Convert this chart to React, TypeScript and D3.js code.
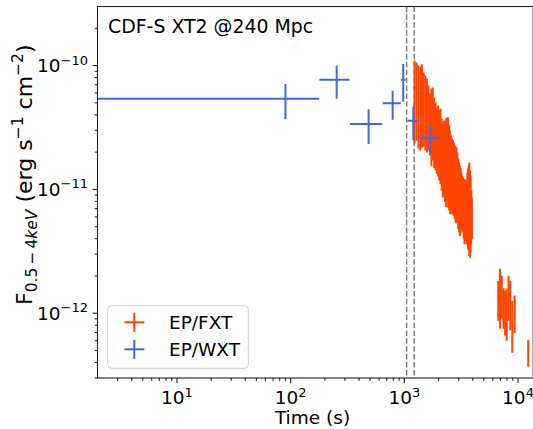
import React from "react";
import * as d3 from "d3";

// EP/WXT points: time (s), half bin width (s), flux and 1-sigma error (erg s^-1 cm^-2)
const wxtTime = [90, 254, 485, 789, 978, 1200, 1700];
const wxtTimeErr = [88, 75, 153, 143, 47, 135, 365];
const wxtFlux = [5.4e-11, 7.7e-11, 3.38e-11, 4.96e-11, 7.7e-11, 3.58e-11, 2.61e-11];
const wxtFluxErr = [1.7e-11, 2.3e-11, 1.05e-11, 1.3e-11, 2.6e-11, 1.1e-11, 6.5e-12];

// EP/FXT light curve: time (s), half bin width (s), flux and error in units of 1e-11
const fxtTime = [
  1230, 1280, 1330, 1380, 1430, 1480, 1530, 1580, 1630, 1680, 1730, 1780, 1830, 1880,
  1930, 1980, 2030, 2080, 2130, 2180, 2230, 2280, 2330, 2380, 2430, 2480, 2530, 2580,
  2630, 2680, 2730, 2780, 2830, 2880, 2930, 2980, 3030, 3080, 3130, 3180, 3230, 3280,
  3330, 3380, 3430, 3480, 3530, 3580, 3630, 3680, 3730, 3780, 3830, 3880, 3930,
  6700, 6950, 7200, 7450, 7700, 7950, 8250, 8550, 8900, 9350, 12300,
];
const fxtTimeErr = [
  25, 25, 25, 25, 25, 25, 25, 25, 25, 25, 25, 25, 25, 25,
  25, 25, 25, 25, 25, 25, 25, 25, 25, 25, 25, 25, 25, 25,
  25, 25, 25, 25, 25, 25, 25, 25, 25, 25, 25, 25, 25, 25,
  25, 25, 25, 25, 25, 25, 25, 25, 25, 25, 25, 25, 25,
  125, 125, 125, 125, 125, 125, 125, 125, 125, 125, 150,
];
const fxtFlux = [
  6.66, 6.53, 6.07, 5.94, 6.19, 5.5, 5.18, 4.92, 4.48, 3.91, 4.03, 4.18, 3.5, 3.23,
  2.96, 3.01, 2.76, 2.8, 2.36, 2.13, 2.25, 2.13, 2.23, 2.31, 2.26, 1.98, 1.81, 1.71,
  1.6, 1.57, 1.5, 1.42, 1.38, 1.36, 1.27, 1.13, 1.05, 0.99, 0.96, 0.92, 0.89, 0.85,
  0.81, 0.77, 0.8, 0.77, 0.77, 0.88, 0.9, 0.94, 0.97, 0.85, 0.8, 0.67, 0.63,
  0.135, 0.152, 0.146, 0.117, 0.109, 0.109, 0.144, 0.128, 0.087, 0.104, 0.049,
];
const fxtFluxErr = [
  4.31, 4.05, 3.93, 3.88, 4.01, 3.28, 3.12, 2.93, 2.42, 2.03, 2.49, 2.47, 2.02, 1.81,
  1.62, 1.74, 1.58, 1.69, 1.38, 1.27, 1.35, 1.34, 1.51, 1.5, 1.55, 1.3, 1.18, 1.01,
  0.97, 0.92, 0.89, 0.84, 0.84, 0.83, 0.71, 0.65, 0.6, 0.57, 0.52, 0.45, 0.4, 0.4,
  0.41, 0.41, 0.4, 0.39, 0.41, 0.49, 0.57, 0.62, 0.68, 0.57, 0.49, 0.31, 0.23,
  0.048, 0.077, 0.055, 0.042, 0.043, 0.049, 0.057, 0.055, 0.039, 0.035, 0.012,
];
const FXT_UNIT = 1e-11;

// marked times (s)
const markTimes = [1048, 1223];

const xMajor = [1, 2, 3, 4]; // exponents
const yMajor = [-10, -11, -12];

const title = "CDF-S XT2 @240 Mpc";
const legendLabels = ["EP/FXT", "EP/WXT"];

const FXT_COLOR = "#ff4500";
const WXT_COLOR = "#4169e1";
const FONT = "DejaVu Sans, sans-serif";

const App = () => {
  const svgRef = React.useRef<SVGSVGElement>(null);
  const width = 533;
  const height = 429;
  const box = { left: 97.5, right: 533.2, top: 6.5, bottom: 378 };
  const xMax = 1.36e4;

  React.useEffect(() => {
    const svg = d3.select(svgRef.current);
    svg.selectAll("*").remove();

    const x = d3.scaleLog().domain([2, xMax]).range([box.left, box.right]);
    const y = d3.scaleLog().domain([3e-13, 3e-10]).range([box.bottom, box.top]);

    svg
      .append("defs")
      .append("clipPath")
      .attr("id", "plotclip")
      .append("rect")
      .attr("x", box.left)
      .attr("y", box.top)
      .attr("width", box.right - box.left)
      .attr("height", box.bottom - box.top);

    const plot = svg.append("g").attr("clip-path", "url(#plotclip)");

    // dashed marker lines
    plot
      .selectAll("line.mark")
      .data(markTimes)
      .enter()
      .append("line")
      .attr("x1", (d) => x(d))
      .attr("x2", (d) => x(d))
      .attr("y1", box.top)
      .attr("y2", box.bottom)
      .style("stroke", "#808080")
      .style("stroke-width", 1.5)
      .style("stroke-dasharray", "5.5,2.4");

    // error bar helper
    const drawBars = (
      t: number[],
      te: number[],
      f: number[],
      fe: number[],
      unit: number,
      color: string
    ) => {
      const pts = t.map((d, i) => ({
        t: d,
        te: te[i],
        f: f[i] * unit,
        fe: fe[i] * unit,
      }));
      const g = plot.append("g").style("stroke", color).style("stroke-width", 2);
      g.selectAll("line.v")
        .data(pts)
        .enter()
        .append("line")
        .attr("x1", (d) => x(d.t))
        .attr("x2", (d) => x(d.t))
        .attr("y1", (d) => y(d.f + d.fe))
        .attr("y2", (d) => (d.f - d.fe > 0 ? y(d.f - d.fe) : box.bottom + 10));
      g.selectAll("line.h")
        .data(pts)
        .enter()
        .append("line")
        .attr("x1", (d) => (d.t - d.te > 0 ? x(d.t - d.te) : box.left - 10))
        .attr("x2", (d) => x(d.t + d.te))
        .attr("y1", (d) => y(d.f))
        .attr("y2", (d) => y(d.f));
    };

    drawBars(fxtTime, fxtTimeErr, fxtFlux, fxtFluxErr, FXT_UNIT, FXT_COLOR);
    drawBars(wxtTime, wxtTimeErr, wxtFlux, wxtFluxErr, 1, WXT_COLOR);

    // frame
    svg
      .append("rect")
      .attr("x", box.left)
      .attr("y", box.top)
      .attr("width", box.right - box.left)
      .attr("height", box.bottom - box.top)
      .style("fill", "none")
      .style("stroke", "#222")
      .style("stroke-width", 1.1);

    // ticks
    const ticks = svg.append("g").style("stroke", "#222").style("stroke-width", 1.1);
    const xMinor: number[] = [];
    const yMinor: number[] = [];
    [0, 1, 2, 3, 4].forEach((k) =>
      d3.range(2, 10).forEach((m) => {
        const v = m * Math.pow(10, k);
        if (v > 2 && v < xMax) xMinor.push(v);
      })
    );
    [-13, -12, -11, -10].forEach((k) =>
      d3.range(2, 10).forEach((m) => {
        const v = m * Math.pow(10, k);
        if (v > 3e-13 && v < 3e-10) yMinor.push(v);
      })
    );
    xMajor.forEach((e) =>
      ticks
        .append("line")
        .attr("x1", x(Math.pow(10, e)))
        .attr("x2", x(Math.pow(10, e)))
        .attr("y1", box.bottom)
        .attr("y2", box.bottom + 4.9)
    );
    xMinor.forEach((v) =>
      ticks
        .append("line")
        .attr("x1", x(v))
        .attr("x2", x(v))
        .attr("y1", box.bottom)
        .attr("y2", box.bottom + 2.8)
    );
    yMajor.forEach((e) =>
      ticks
        .append("line")
        .attr("y1", y(Math.pow(10, e)))
        .attr("y2", y(Math.pow(10, e)))
        .attr("x1", box.left)
        .attr("x2", box.left - 4.9)
    );
    yMinor.forEach((v) =>
      ticks
        .append("line")
        .attr("y1", y(v))
        .attr("y2", y(v))
        .attr("x1", box.left)
        .attr("x2", box.left - 2.8)
    );

    // tick labels
    xMajor.forEach((e) => {
      const t = svg
        .append("text")
        .attr("x", x(Math.pow(10, e)))
        .attr("y", 404)
        .attr("text-anchor", "middle")
        .style("font-family", FONT)
        .style("font-size", "18.5px");
      t.append("tspan").text("10");
      t.append("tspan").attr("dy", -7.5).style("font-size", "13px").text(String(e));
    });
    yMajor.forEach((e) => {
      const t = svg
        .append("text")
        .attr("x", 88)
        .attr("y", y(Math.pow(10, e)) + 6.5)
        .attr("text-anchor", "end")
        .style("font-family", FONT)
        .style("font-size", "18.5px");
      t.append("tspan").text("10");
      t.append("tspan").attr("dy", -7.5).style("font-size", "13px").text("\u2212" + Math.abs(e));
    });

    // axis labels
    svg
      .append("text")
      .attr("x", 312.5)
      .attr("y", 424)
      .attr("text-anchor", "middle")
      .style("font-family", FONT)
      .style("font-size", "18.5px")
      .text("Time (s)");

    const yl = svg
      .append("text")
      .attr("transform", `translate(32, 305) rotate(-90)`)
      .attr("text-anchor", "start")
      .style("font-family", FONT)
      .style("font-size", "22px");
    yl.append("tspan").text("F");
    yl.append("tspan").attr("dy", 4.5).style("font-size", "15.5px").text("0.5\u2009\u2212\u20094");
    yl.append("tspan").style("font-size", "15.5px").style("font-style", "italic").text("keV");
    yl.append("tspan").attr("dy", -4.5).text(" (erg s");
    yl.append("tspan").attr("dy", -9).style("font-size", "15.5px").text("\u22121");
    yl.append("tspan").attr("dy", 9).text(" cm");
    yl.append("tspan").attr("dy", -9).style("font-size", "15.5px").text("\u22122");
    yl.append("tspan").attr("dy", 9).text(")");

    // title
    svg
      .append("text")
      .attr("x", 108)
      .attr("y", 33)
      .style("font-family", FONT)
      .style("font-size", "18.9px")
      .text(title);

    // legend
    const lg = svg.append("g");
    lg.append("rect")
      .attr("x", 107.7)
      .attr("y", 305.7)
      .attr("width", 140.6)
      .attr("height", 62.6)
      .attr("rx", 4)
      .style("fill", "white")
      .style("fill-opacity", 0.8)
      .style("stroke", "#cccccc")
      .style("stroke-width", 1);
    [FXT_COLOR, WXT_COLOR].forEach((c, i) => {
      const cy = 322.3 + i * 27;
      lg.append("line")
        .attr("x1", 124.3)
        .attr("x2", 144.3)
        .attr("y1", cy)
        .attr("y2", cy)
        .style("stroke", c)
        .style("stroke-width", 2);
      lg.append("line")
        .attr("x1", 134.3)
        .attr("x2", 134.3)
        .attr("y1", cy - 9.5)
        .attr("y2", cy + 9.5)
        .style("stroke", c)
        .style("stroke-width", 2);
      lg.append("text")
        .attr("x", 169)
        .attr("y", cy + 6.3)
        .style("font-family", FONT)
        .style("font-size", "18.5px")
        .text(legendLabels[i]);
    });
  }, []);

  return (
    <svg
      ref={svgRef}
      width={width}
      height={height}
      style={{ position: "absolute", left: 0, top: 0, background: "white" }}
    />
  );
};

export default App;
